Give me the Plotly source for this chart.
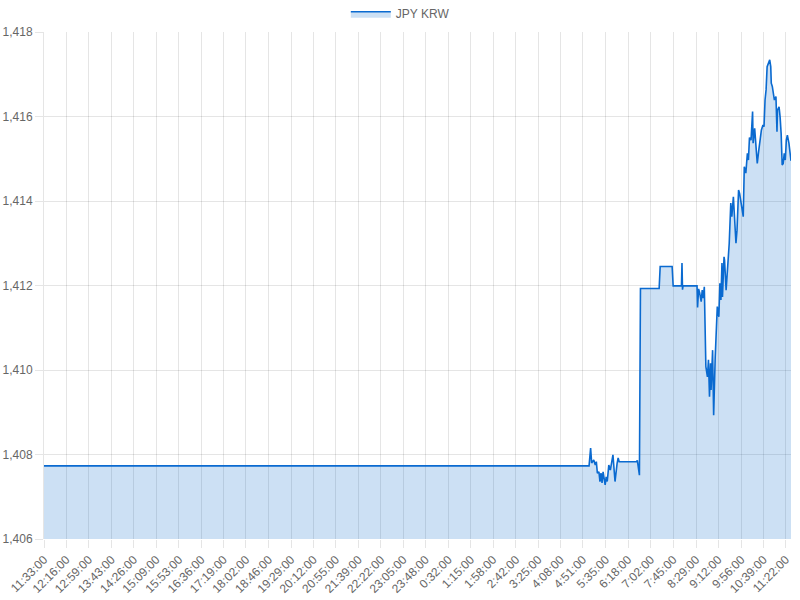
import plotly.graph_objects as go
from datetime import datetime, timedelta

# JPY KRW quotes over one day (start 11:33, end 11:32 next day)
times = [
    "11:33", "5:03", "5:06", "5:08", "5:12", "5:15", "5:17", "5:19", "5:22", "5:24",
    "5:26", "5:28", "5:30", "5:34", "5:36", "5:38", "5:41", "5:44", "5:49", "5:53",
    "5:57", "5:59", "6:01", "6:34", "6:36", "6:40", "6:42", "7:18", "7:20", "7:43",
    "7:45", "8:01", "8:02", "8:03", "8:04", "8:31", "8:32", "8:34", "8:36", "8:39",
    "8:41", "8:43", "8:45", "8:48", "8:51", "8:53", "8:55", "8:57", "8:58", "9:01",
    "9:03", "9:06", "9:08", "9:10", "9:13", "9:15", "9:17", "9:19", "9:20", "9:23",
    "9:24", "9:27", "9:30", "9:33", "9:36", "9:38", "9:41", "9:43", "9:46", "9:48",
    "9:51", "9:53", "9:56", "10:00", "10:02", "10:05", "10:08", "10:10", "10:12", "10:15",
    "10:18", "10:19", "10:22", "10:24", "10:27", "10:30", "10:33", "10:35", "10:38", "10:40",
    "10:42", "10:44", "10:46", "10:49", "10:51", "10:53", "10:54", "10:56", "10:58", "11:00",
    "11:03", "11:05", "11:06", "11:09", "11:11", "11:13", "11:15", "11:17", "11:19", "11:21",
    "11:23", "11:25", "11:28", "11:30", "11:32",
]
rates = [
    1407.73, 1407.73, 1408.15, 1407.80, 1407.87, 1407.75, 1407.83, 1407.56, 1407.59, 1407.36,
    1407.56, 1407.33, 1407.59, 1407.28, 1407.47, 1407.36, 1407.75, 1407.63, 1407.99, 1407.36,
    1407.79, 1407.92, 1407.83, 1407.83, 1407.86, 1407.51, 1411.93, 1411.93, 1412.45, 1412.45,
    1411.99, 1411.99, 1412.53, 1411.90, 1411.99, 1411.99, 1411.48, 1411.92, 1411.83, 1411.62,
    1411.89, 1411.70, 1411.97, 1410.08, 1409.84, 1410.24, 1409.37, 1410.16, 1409.53, 1410.47,
    1408.93, 1410.31, 1410.87, 1411.50, 1411.26, 1412.05, 1411.66, 1412.53, 1411.73, 1412.68,
    1412.60, 1411.89, 1412.45, 1413.00, 1413.95, 1413.63, 1414.10, 1413.55, 1413.00, 1413.31,
    1414.26, 1414.18, 1413.95, 1413.63, 1414.81, 1414.66, 1415.13, 1414.97, 1415.50, 1415.44,
    1416.12, 1415.37, 1415.72, 1415.29, 1414.89, 1415.21, 1415.48, 1415.68, 1415.80, 1415.76,
    1416.39, 1416.63, 1417.18, 1417.26, 1417.34, 1417.18, 1416.79, 1416.71, 1416.55, 1416.39,
    1416.47, 1415.64, 1416.15, 1416.23, 1415.99, 1415.60, 1414.85, 1414.89, 1415.13, 1414.97,
    1415.44, 1415.56, 1415.37, 1415.05, 1414.95,
]

tick_labels = [
    "11:33:00", "12:16:00", "12:59:00", "13:43:00", "14:26:00", "15:09:00", "15:53:00",
    "16:36:00", "17:19:00", "18:02:00", "18:46:00", "19:29:00", "20:12:00", "20:55:00",
    "21:39:00", "22:22:00", "23:05:00", "23:48:00", "0:32:00", "1:15:00", "1:58:00",
    "2:42:00", "3:25:00", "4:08:00", "4:51:00", "5:35:00", "6:18:00", "7:02:00",
    "7:45:00", "8:29:00", "9:12:00", "9:56:00", "10:39:00", "11:22:00",
]

day0 = datetime(2024, 1, 1)


def to_dt(s):
    h, m = s.split(":")[:2]
    d = day0 + timedelta(hours=int(h), minutes=int(m))
    if (int(h), int(m)) < (11, 33):
        d += timedelta(days=1)
    return d


xs = [to_dt(t) for t in times]
tickvals = [to_dt(t) for t in tick_labels]

fig = go.Figure()
fig.add_trace(go.Scatter(
    x=xs, y=rates, name="JPY KRW", mode="lines",
    line=dict(color="rgb(10,106,208)", width=1.6),
    fill="tozeroy", fillcolor="rgba(0,100,200,0.2)",
))

grid = "rgba(0,0,0,0.1)"
fig.update_layout(
    width=800, height=600,
    paper_bgcolor="white", plot_bgcolor="white",
    font=dict(family="Liberation Sans, Arial", size=12, color="#666"),
    margin=dict(l=44, r=9, t=32, b=61, autoexpand=False),
    showlegend=True,
    legend=dict(orientation="h", x=0.477, xanchor="center", y=1.036, yanchor="middle",
                itemwidth=40, font=dict(size=12, color="#666")),
    xaxis=dict(
        range=[xs[0], xs[-1]], automargin=False,
        tickmode="array", tickvals=tickvals, ticktext=tick_labels,
        tickangle=-45, showgrid=True, gridcolor=grid, gridwidth=1,
        ticks="outside", ticklen=8, tickcolor=grid,
        showline=False, zeroline=False,
    ),
    yaxis=dict(
        range=[1406, 1418], dtick=2, tickformat=",d", automargin=False,
        showgrid=True, gridcolor=grid, gridwidth=1,
        ticks="outside", ticklen=8, tickcolor=grid,
        showline=True, linecolor=grid, zeroline=False,
    ),
)

# drop the default 8px body margin so the 800x600 figure fills the window
fig.write_html("out.html", config={"displayModeBar": False},
               post_script="document.body.style.margin='0';")
